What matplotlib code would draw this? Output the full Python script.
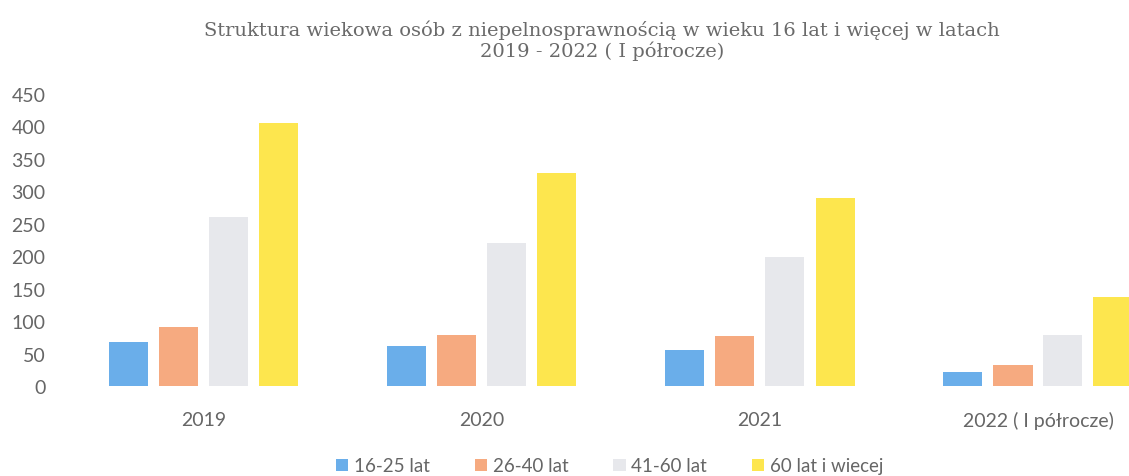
import matplotlib.pyplot as plt
import numpy as np

# data
years = ['2019', '2020', '2021', '2022 ( I półrocze)']
groups = ['16-25 lat', '26-40 lat', '41-60 lat', '60 lat i wiecej']
v_16_25 = [68, 61, 55, 21]
v_26_40 = [91, 78, 77, 33]
v_41_60 = [260, 221, 199, 79]
v_60_plus = [406, 329, 290, 137]
series = [v_16_25, v_26_40, v_41_60, v_60_plus]
colors = ['#6aaeea', '#f6aa80', '#e7e8ec', '#fde64e']

txt = '#666666'

fig = plt.figure(figsize=(11.29, 4.77), dpi=100)
# plot area runs off the right edge like the cropped scan
ax = fig.add_axes([65 / 1129, 90 / 477, 1112 / 1129, 292 / 477])

x = np.arange(len(years))
pitch = 50 / 278
width = 39 / 278
for i, (vals, c) in enumerate(zip(series, colors)):
    ax.bar(x + (i - 1.5) * pitch, vals, width=width, color=c, label=groups[i])

ax.set_xlim(-0.5, len(years) - 0.5)
ax.set_ylim(0, 450)
ax.set_yticks(np.arange(0, 451, 50))
ax.set_xticks(x)
ax.set_xticklabels(years)
for s in ax.spines.values():
    s.set_visible(False)
ax.tick_params(length=0, colors=txt, labelsize=14)
ax.tick_params(axis='x', pad=18)
ax.tick_params(axis='y', pad=14)
for lab in ax.get_xticklabels() + ax.get_yticklabels():
    lab.set_family('Lato')

fig.text(0.533, 0.958, 'Struktura wiekowa osób z niepelnosprawnością w wieku 16 lat i więcej w latach\n2019 - 2022 ( I półrocze)',
         ha='center', va='top', fontsize=14, color='#6a6a6a', family='DejaVu Serif', linespacing=1.1)

fig.legend(loc='lower center', bbox_to_anchor=(0.54, -0.032), ncol=4, frameon=False,
           handlelength=0.65, handleheight=0.65, handletextpad=0.3, columnspacing=2.4,
           prop={'family': 'Lato', 'size': 13.5}, labelcolor=txt)

fig.savefig('out.png', dpi=100)
